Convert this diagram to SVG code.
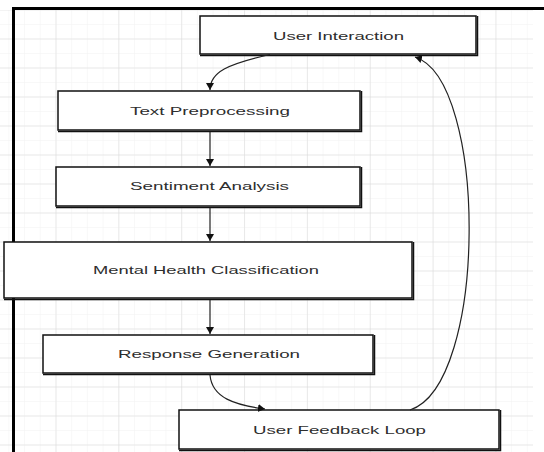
<svg xmlns="http://www.w3.org/2000/svg" width="544" height="452" viewBox="0 0 544 452">
  <defs>
    <pattern id="minor" patternUnits="userSpaceOnUse" x="-7.35" y="9.5" width="15.71" height="14.5">
      <path d="M0,0 V14.5 M0,0 H15.71" fill="none" stroke="#f2f2f2" stroke-width="1"/>
    </pattern>
    <pattern id="major" patternUnits="userSpaceOnUse" x="-7.35" y="9.5" width="62.85" height="29">
      <path d="M0,0 V29 M0,0 H62.85" fill="none" stroke="#d9d9d9" stroke-width="1"/>
    </pattern>
    <marker id="arr" markerUnits="userSpaceOnUse" markerWidth="10" markerHeight="10" refX="7" refY="4" orient="auto">
      <path d="M0,0 L7,4 L0,8 Z" fill="#111"/>
    </marker>
  </defs>
  <style>
    .box { fill: #ffffff; stroke: #111; stroke-width: 1.5; }
    .shadow { fill: none; stroke: #111; stroke-width: 1.5; }
    .lbl { font-family: "Liberation Sans", Arial, sans-serif; font-size: 11.5px; fill: #2e2e2e; }
    .edge { fill: none; stroke: #222; stroke-width: 1.2; marker-end: url(#arr); }
  </style>
  <rect x="0" y="0" width="544" height="452" fill="#ffffff"/>
  <g id="grid">
    <rect x="0" y="10" width="533" height="442" fill="url(#minor)"/>
    <rect x="0" y="10" width="533" height="442" fill="url(#major)"/>
  </g>
  <path id="frame" d="M13.5,452 V8.5 H544" fill="none" stroke="#000" stroke-width="3"/>

  <g id="user-interaction">
    <rect class="box" x="200" y="16" width="276" height="38"/>
    <path class="shadow" d="M477.5,16 V55.5 H200"/>
    <text class="lbl" x="273" y="39.5" textLength="131" lengthAdjust="spacingAndGlyphs">User Interaction</text>
  </g>
  <g id="text-preprocessing">
    <rect class="box" x="58" y="91" width="302" height="39"/>
    <path class="shadow" d="M361.5,91 V131.5 H58"/>
    <text class="lbl" x="130" y="114.5" textLength="160" lengthAdjust="spacingAndGlyphs">Text Preprocessing</text>
  </g>
  <g id="sentiment-analysis">
    <rect class="box" x="56" y="167" width="304" height="39"/>
    <path class="shadow" d="M361.5,167 V207.5 H56"/>
    <text class="lbl" x="130" y="189.5" textLength="159" lengthAdjust="spacingAndGlyphs">Sentiment Analysis</text>
  </g>
  <g id="mental-health-classification">
    <rect class="box" x="4" y="242" width="408" height="56"/>
    <path class="shadow" d="M413.5,242 V299.5 H4"/>
    <text class="lbl" x="93" y="273.5" textLength="226" lengthAdjust="spacingAndGlyphs">Mental Health Classification</text>
  </g>
  <g id="response-generation">
    <rect class="box" x="43" y="335" width="330" height="38"/>
    <path class="shadow" d="M374.5,335 V374.5 H43"/>
    <text class="lbl" x="118" y="357.5" textLength="182" lengthAdjust="spacingAndGlyphs">Response Generation</text>
  </g>
  <g id="user-feedback-loop">
    <rect class="box" x="179" y="410" width="320" height="39"/>
    <path class="shadow" d="M500.5,410 V450.5 H179"/>
    <text class="lbl" x="253" y="434" textLength="173" lengthAdjust="spacingAndGlyphs">User Feedback Loop</text>
  </g>

  <g id="connectors">
    <path class="edge" d="M270,54.5 C228,64 210,72 210,90"/>
    <path class="edge" d="M210,132 V166"/>
    <path class="edge" d="M210,208 V241"/>
    <path class="edge" d="M210,300 V334"/>
    <path class="edge" d="M210,375 C212,398 235,405 265,409"/>
    <path class="edge" d="M410,410 C488,385 488,80 415,57"/>
  </g>
</svg>
